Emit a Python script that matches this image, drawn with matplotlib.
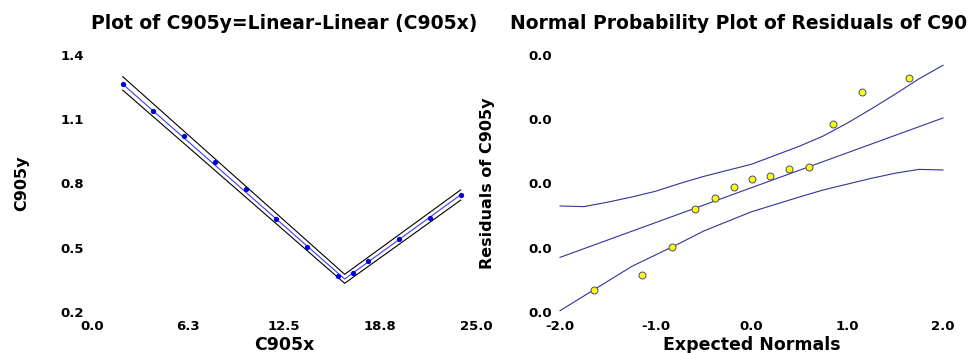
import matplotlib
matplotlib.use("Agg")
import matplotlib.pyplot as plt
import numpy as np

plt.rcParams['font.family'] = 'DejaVu Sans'
plt.rcParams['font.weight'] = 'bold'
plt.rcParams['axes.unicode_minus'] = False

# left panel: data and piecewise linear fit
c905x = [2, 4, 6, 8, 10, 12, 14, 16, 17, 18, 20, 22, 24]
c905y = [1.264, 1.138, 1.024, 0.901, 0.772, 0.635, 0.505, 0.368, 0.383, 0.437, 0.541, 0.640, 0.747]
fit_x = [2, 16.45, 24]
fit_y = [1.264, 0.354, 0.747]
fit_upper = [1.299, 0.376, 0.770]
fit_lower = [1.236, 0.334, 0.722]
left_xticks = [0, 6.25, 12.5, 18.75, 25]
left_xlabels = ["0.0", "6.3", "12.5", "18.8", "25.0"]
left_yticks = [0.2, 0.5, 0.8, 1.1, 1.4]

# right panel: normal probability plot of residuals
normals = [-1.64, -1.14, -0.83, -0.59, -0.38, -0.18, 0.0, 0.19, 0.39, 0.60, 0.85, 1.15, 1.65]
residuals = [-0.0166, -0.0143, -0.0099, -0.0039, -0.0023, -0.0005, 0.0007, 0.0012, 0.0022, 0.0026, 0.0093, 0.0142, 0.0164]
ref_x = [-2, 2]
ref_y = [-0.0115, 0.0102]
band_x = [-2, -1.75, -1.5, -1.25, -1.0, -0.75, -0.5, 0.0, 0.5, 0.75, 1.0, 1.25, 1.5, 1.75, 2.0]
band_upper = [-0.0035, -0.0036, -0.0029, -0.0021, -0.0012, 0.0000, 0.0011, 0.0030, 0.0058, 0.0074,
              0.0094, 0.0116, 0.0139, 0.0163, 0.0184]
band_lower = [-0.0198, -0.0175, -0.0152, -0.0129, -0.0111, -0.0093, -0.0074, -0.0044, -0.0021, -0.0010,
              -0.0001, 0.0008, 0.0016, 0.0022, 0.0021]
right_xticks = [-2, -1, 0, 1, 2]
right_yticks = [-0.02, -0.01, 0.0, 0.01, 0.02]
right_ylabels = ["0.0", "0.0", "0.0", "0.0", "0.0"]

W, H = 968, 353
fig = plt.figure(figsize=(W / 100, H / 100), dpi=100)
ax1 = fig.add_axes([92 / W, 41 / H, 384 / W, 257 / H])
ax2 = fig.add_axes([560 / W, 41 / H, 383 / W, 257 / H])

# left
ax1.plot(fit_x, fit_upper, color='black', lw=0.8, clip_on=False)
ax1.plot(fit_x, fit_lower, color='black', lw=0.8, clip_on=False)
ax1.plot(fit_x, fit_y, color='#3a3aff', lw=0.8, clip_on=False)
ax1.plot(c905x, c905y, 'o', color='#0000d8', ms=3.8, mew=0, clip_on=False, zorder=3)
ax1.set_xlim(0, 25)
ax1.set_ylim(0.2, 1.4)
ax1.set_xticks(left_xticks)
ax1.set_xticklabels(left_xlabels)
ax1.set_yticks(left_yticks)
ax1.set_yticklabels(["%.1f" % v for v in left_yticks])
ax1.set_title("Plot of C905y=Linear-Linear (C905x)", fontsize=13.5, fontweight='bold', pad=19)
ax1.set_xlabel("C905x", fontsize=12.5, fontweight='bold')
ax1.set_ylabel("C905y", fontsize=11.5, fontweight='bold')
ax1.xaxis.set_label_coords(0.5, -0.095)
ax1.yaxis.set_label_coords(-0.164, 0.5)

# right
line_col = '#33339a'
ax2.plot(band_x, band_upper, color=line_col, lw=0.8, clip_on=False)
ax2.plot(band_x, band_lower, color=line_col, lw=0.8, clip_on=False)
ax2.plot(ref_x, ref_y, color=line_col, lw=0.8, clip_on=False)
ax2.plot(normals, residuals, 'o', mfc='#ffff00', mec='#4a4a8a', ms=5, mew=0.7, clip_on=False, zorder=3)
ax2.set_xlim(-2, 2)
ax2.set_ylim(-0.02, 0.02)
ax2.set_xticks(right_xticks)
ax2.set_xticklabels(["%.1f" % v for v in right_xticks])
ax2.set_yticks(right_yticks)
ax2.set_yticklabels(right_ylabels)
# the reference title runs past the right edge of the image
ax2.set_title("Normal Probability Plot of Residuals of C905y", fontsize=13.5, fontweight='bold', pad=19)
ax2.set_xlabel("Expected Normals", fontsize=12.5, fontweight='bold')
ax2.set_ylabel("Residuals of C905y", fontsize=11.5, fontweight='bold')
ax2.xaxis.set_label_coords(0.5, -0.095)
ax2.yaxis.set_label_coords(-0.170, 0.5)

for ax in (ax1, ax2):
    for s in ax.spines.values():
        s.set_visible(False)
    ax.tick_params(length=0, labelsize=9.5, pad=5.5)
    for lab in ax.get_xticklabels() + ax.get_yticklabels():
        lab.set_fontweight('bold')

fig.savefig("out.png", dpi=100)
